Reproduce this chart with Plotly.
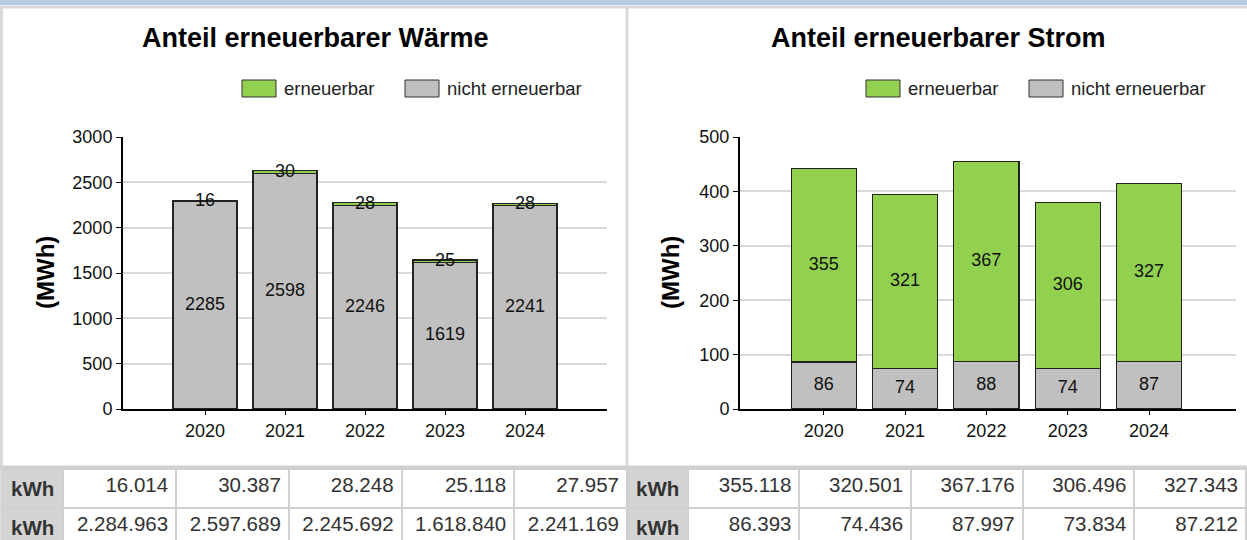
import plotly.graph_objects as go

# Raw values in kWh, as listed in the table under the charts
years = ["2020", "2021", "2022", "2023", "2024"]
heat_renewable_kwh = [16014, 30387, 28248, 25118, 27957]
heat_fossil_kwh = [2284963, 2597689, 2245692, 1618840, 2241169]
power_renewable_kwh = [355118, 320501, 367176, 306496, 327343]
power_fossil_kwh = [86393, 74436, 87997, 73834, 87212]

series_names = ["erneuerbar", "nicht erneuerbar"]
GREEN = "#92d050"
GREY = "#c0c0c0"
LINE_GREY = "#d0d0d0"
FONT = "Liberation Sans, Arial, sans-serif"
W, H = 1247, 540


def px_x(x):
    return x / W


def px_y(y):
    return 1 - y / H


def de_num(v):
    return f"{v:,}".replace(",", ".")


def add_chart(fig, xa, ya, renew_kwh, fossil_kwh):
    renew = [v / 1000 for v in renew_kwh]
    fossil = [v / 1000 for v in fossil_kwh]
    for vals, col in ((fossil, GREY), (renew, GREEN)):
        fig.add_trace(go.Bar(
            x=years, y=vals, xaxis=xa, yaxis=ya, width=0.8,
            marker=dict(color=col, line=dict(color="#222222", width=1.2)),
            showlegend=False, hoverinfo="skip",
        ))
    # labels centred on each segment
    fig.add_trace(go.Scatter(
        x=years + years,
        y=[f / 2 for f in fossil] + [f + r / 2 for f, r in zip(fossil, renew)],
        text=[str(round(v)) for v in fossil] + [str(round(v)) for v in renew],
        mode="text", textfont=dict(size=18, color="#111111", family=FONT),
        xaxis=xa, yaxis=ya, showlegend=False, hoverinfo="skip", cliponaxis=False,
    ))


fig = go.Figure()
add_chart(fig, "x", "y", heat_renewable_kwh, heat_fossil_kwh)
add_chart(fig, "x2", "y2", power_renewable_kwh, power_fossil_kwh)

# tables: first row rendered as header so both rows can be styled alike
for dom, renew_kwh, fossil_kwh in (((3, 627), heat_renewable_kwh, heat_fossil_kwh),
                                     ((628, 1247), power_renewable_kwh, power_fossil_kwh)):
    fills = ["#d4d4d4"] + ["#ffffff"] * len(years)
    fig.add_trace(go.Table(
        domain=dict(x=[px_x(dom[0]), px_x(dom[1])], y=[0, px_y(469)]),
        columnwidth=[60] + [112] * len(years),
        header=dict(
            values=["<b>kWh</b>"] + [de_num(v) for v in renew_kwh],
            fill_color=fills, line=dict(color=LINE_GREY, width=2),
            align=["left"] + ["right"] * len(years), height=37,
            font=dict(size=20.5, color="#333333", family=FONT),
        ),
        cells=dict(
            values=[["<b>kWh</b>"]] + [[de_num(v)] for v in fossil_kwh],
            fill_color=fills, line=dict(color=LINE_GREY, width=2),
            align=["left"] + ["right"] * len(years), height=34,
            font=dict(size=20.5, color="#333333", family=FONT),
        ),
    ))

axis_common = dict(
    showline=True, linecolor="#000000", linewidth=2,
    ticks="outside", tickcolor="#000000", tickwidth=1,
    tickfont=dict(size=18, color="#111111", family=FONT),
    zeroline=False, fixedrange=True, automargin=False,
)

shapes = [
    dict(type="rect", xref="paper", yref="paper", x0=0, x1=1, y0=px_y(0), y1=px_y(5),
         fillcolor="#b8cce4", line=dict(width=0), layer="below"),
    dict(type="rect", xref="paper", yref="paper", x0=0, x1=1, y0=px_y(5.5), y1=px_y(8.5),
         fillcolor="#d9d9d9", line=dict(width=0), layer="below"),
    dict(type="rect", xref="paper", yref="paper", x0=px_x(0), x1=px_x(3), y0=0, y1=px_y(5.5),
         fillcolor="#d9d9d9", line=dict(width=0), layer="below"),
    dict(type="rect", xref="paper", yref="paper", x0=px_x(625.5), x1=px_x(628.5), y0=0, y1=px_y(5.5),
         fillcolor="#d9d9d9", line=dict(width=0), layer="below"),
    # top edge of the value tables
    dict(type="rect", xref="paper", yref="paper", x0=0, x1=1, y0=px_y(469), y1=px_y(465.5),
         fillcolor=LINE_GREY, line=dict(width=0)),
]

annotations = []
for cx, title in ((315, "Anteil erneuerbarer Wärme"), (938, "Anteil erneuerbarer Strom")):
    annotations.append(dict(
        x=px_x(cx), y=px_y(38), xref="paper", yref="paper", text=f"<b>{title}</b>",
        xanchor="center", yanchor="middle",
        showarrow=False, font=dict(size=27, color="#000000", family=FONT),
    ))

# legend swatches, left and right panels
for lx in (242, 866):
    for name, col, off in zip(series_names, (GREEN, GREY), (0, 163)):
        x0 = lx + off
        shapes.append(dict(
            type="rect", xref="paper", yref="paper",
            x0=px_x(x0), x1=px_x(x0 + 34), y0=px_y(97), y1=px_y(80),
            fillcolor=col, line=dict(color="#333333", width=1),
        ))
        annotations.append(dict(
            x=px_x(x0 + 40), y=px_y(88.5), xref="paper", yref="paper", text=name,
            showarrow=False, xanchor="left", yanchor="middle",
            font=dict(size=18.5, color="#222222", family=FONT),
        ))

for cx in (45, 670):
    annotations.append(dict(
        x=px_x(cx), y=px_y(273), xref="paper", yref="paper", text="<b>(MWh)</b>",
        xanchor="center", yanchor="middle",
        textangle=-90, showarrow=False, font=dict(size=24, color="#000000", family=FONT),
    ))

fig.update_layout(
    width=W, height=H, autosize=False,
    margin=dict(l=0, r=0, t=0, b=0, pad=0, autoexpand=False),
    paper_bgcolor="#ffffff", plot_bgcolor="#ffffff",
    barmode="stack", bargap=0.2,
    font=dict(family=FONT),
    xaxis=dict(domain=[px_x(123), px_x(607)], range=[-1.025, 5.025], anchor="y",
               ticklen=4, ticklabelstandoff=0, **axis_common),
    yaxis=dict(domain=[px_y(409), px_y(137)], range=[0, 3000], dtick=500, anchor="x",
               ticklen=5, showgrid=True, gridcolor="#d9d9d9", gridwidth=2, **axis_common),
    xaxis2=dict(domain=[px_x(740), px_x(1236)], range=[-1.03, 5.07], anchor="y2",
                ticklen=4, ticklabelstandoff=0, **axis_common),
    yaxis2=dict(domain=[px_y(409), px_y(137)], range=[0, 500], dtick=100, anchor="x2",
                ticklen=5, showgrid=True, gridcolor="#d9d9d9", gridwidth=2, **axis_common),
    shapes=shapes,
    annotations=annotations,
    showlegend=False,
)

fig.write_html(
    "out.html",
    config={"displayModeBar": False},
    post_script="document.body.style.margin='0';document.body.style.overflow='hidden';",
)
